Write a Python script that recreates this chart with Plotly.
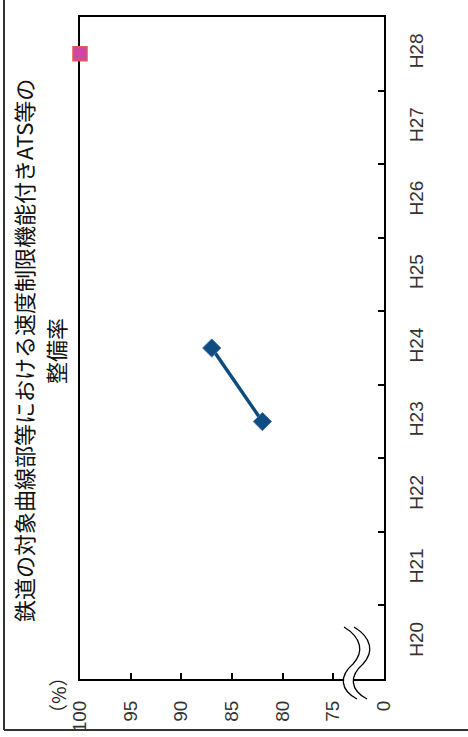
import plotly.graph_objects as go

# Fiscal years (Heisei era) along the category axis
years = ["H20", "H21", "H22", "H23", "H24", "H25", "H26", "H27", "H28"]

# Installation rate (%) – measured years
rate_years = ["H23", "H24"]
rate_values = [82, 87]

# Target value
target_years = ["H28"]
target_values = [100]

# Value axis ticks (axis is broken between 0 and 75; "0" sits one step below 75)
value_tickvals = [70, 75, 80, 85, 90, 95, 100]
value_ticktext = ["0", "75", "80", "85", "90", "95", "100"]

W, H = 468, 737
ML, MR, MT, MB = 80, 84, 17, 58
PW, PH = W - ML - MR, H - MT - MB

def px(x):
    return (x - ML) / PW

def py(y):
    return (H - MB - y) / PH

fig = go.Figure()

fig.add_trace(go.Scatter(
    x=rate_values, y=rate_years, mode="lines+markers",
    line=dict(color="#0d4a7e", width=3.5),
    marker=dict(symbol="diamond", size=14, color="#0f4c84",
                line=dict(color="#3d72aa", width=1)),
    cliponaxis=False, showlegend=False,
))

fig.add_trace(go.Scatter(
    x=target_values, y=target_years, mode="markers",
    marker=dict(symbol="square", size=14, color="#cf47a0",
                line=dict(color="#e05a5a", width=1.5)),
    cliponaxis=False, showlegend=False,
))

tick_font = dict(family="Liberation Sans, Arial, sans-serif", size=19, color="#333333")

fig.update_xaxes(
    range=[100, 70], tickvals=value_tickvals, ticktext=value_ticktext,
    tickangle=-90, ticks="inside", ticklen=6, tickwidth=1.5, tickcolor="black",
    showline=True, linecolor="black", linewidth=2, mirror=True,
    showgrid=False, zeroline=False, tickfont=tick_font,
    ticklabelstandoff=12, layer="below traces", automargin=False,
)

fig.update_yaxes(
    type="category", categoryorder="array", categoryarray=years,
    range=[-0.5, 8.5], side="right",
    tickangle=-90, ticks="inside", ticklen=6, tickwidth=1.5, tickcolor="black",
    tickson="boundaries",
    showline=True, linecolor="black", linewidth=2, mirror=True,
    showgrid=False, zeroline=False, tickfont=tick_font,
    ticklabelstandoff=14, layer="below traces", automargin=False,
)

title_font = dict(family="Noto Sans CJK JP, sans-serif", size=22, color="#111111")
annotations = [
    dict(text="鉄道の対象曲線部等における速度制限機能付きATS等の",
         x=px(23), y=py(351), xref="paper", yref="paper",
         textangle=-90, showarrow=False, font=title_font,
         xanchor="center", yanchor="middle"),
    dict(text="整備率",
         x=px(55), y=py(351), xref="paper", yref="paper",
         textangle=-90, showarrow=False, font=title_font,
         xanchor="center", yanchor="middle"),
    dict(text="（%）",
         x=px(57), y=py(695), xref="paper", yref="paper",
         textangle=-90, showarrow=False,
         font=dict(family="Noto Sans CJK JP, sans-serif", size=19, color="#222222"),
         xanchor="center", yanchor="middle"),
]

def pt(x, y):
    return f"{px(x):.5f},{py(y):.5f}"

def wave(dx):
    return (f"M {pt(344+dx, 627)} C {pt(362+dx, 638)} {pt(364+dx, 652)} {pt(353+dx, 664)} "
            f"C {pt(339+dx, 676)} {pt(340+dx, 690)} {pt(357+dx, 699)}")

def wave_rev(dx):
    return (f"L {pt(357+dx, 699)} C {pt(340+dx, 690)} {pt(339+dx, 676)} {pt(353+dx, 664)} "
            f"C {pt(364+dx, 652)} {pt(362+dx, 638)} {pt(344+dx, 627)} Z")

shapes = [
    # outer frame (left and bottom edges)
    dict(type="line", xref="paper", yref="paper",
         x0=px(4), y0=py(0), x1=px(4), y1=py(730),
         line=dict(color="#333333", width=2)),
    dict(type="line", xref="paper", yref="paper",
         x0=px(4), y0=py(730), x1=px(W), y1=py(730),
         line=dict(color="#333333", width=2)),
    # axis break: white band between two wavy strokes
    dict(type="path", xref="paper", yref="paper",
         path=wave(0) + " " + wave_rev(10),
         fillcolor="white", line=dict(width=0), layer="above"),
    dict(type="path", xref="paper", yref="paper", path=wave(0),
         line=dict(color="black", width=1.3), layer="above"),
    dict(type="path", xref="paper", yref="paper", path=wave(10),
         line=dict(color="black", width=1.3), layer="above"),
]

fig.update_layout(
    width=W, height=H,
    margin=dict(l=ML, r=MR, t=MT, b=MB),
    paper_bgcolor="white", plot_bgcolor="white",
    annotations=annotations, shapes=shapes,
)

fig.write_html("out.html")
